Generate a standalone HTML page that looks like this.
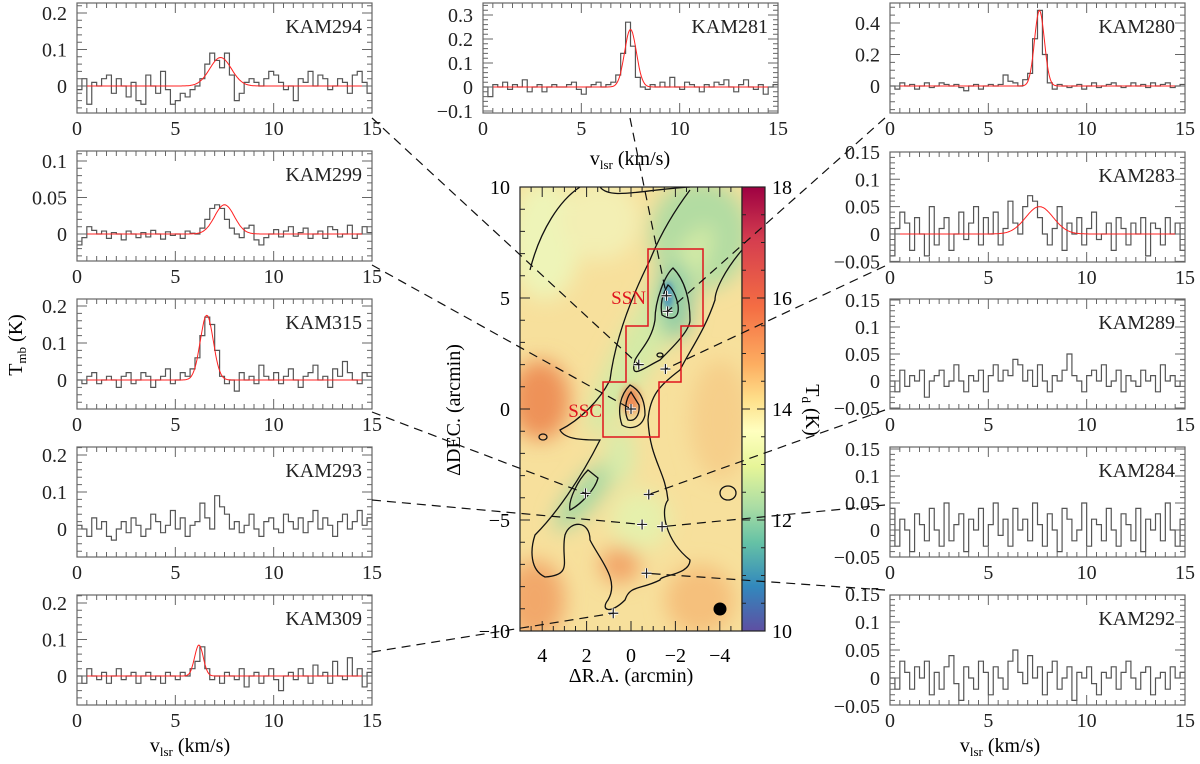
<!DOCTYPE html>
<html><head><meta charset="utf-8"><style>
html,body{margin:0;padding:0;background:#fff;}
svg{display:block;font-family:"Liberation Serif",serif;}
</style></head><body>
<svg id="fig" width="1200" height="764" viewBox="0 0 1200 764" xmlns="http://www.w3.org/2000/svg">
<defs>
<filter id="blur" x="-50%" y="-50%" width="200%" height="200%"><feGaussianBlur stdDeviation="10"/></filter>
<clipPath id="mapclip"><rect x="520" y="187" width="222" height="444"/></clipPath>
<linearGradient id="cbar" x1="0" y1="0" x2="0" y2="1">
<stop offset="0" stop-color="#9e0142"/><stop offset="0.12" stop-color="#d53e4f"/><stop offset="0.27" stop-color="#f46d43"/><stop offset="0.4" stop-color="#fdae61"/><stop offset="0.48" stop-color="#fee08b"/><stop offset="0.55" stop-color="#ffffbf"/><stop offset="0.63" stop-color="#e6f598"/><stop offset="0.72" stop-color="#abdda4"/><stop offset="0.8" stop-color="#66c2a5"/><stop offset="0.9" stop-color="#3288bd"/><stop offset="1" stop-color="#5e4fa2"/>
</linearGradient>
</defs>
<g id="map">
<g clip-path="url(#mapclip)">
<rect x="520" y="187" width="222" height="444" fill="#f7e09c"/>
<g filter="url(#blur)">
<ellipse cx="545" cy="240" rx="35" ry="60" fill="#eef4b8"/>
<ellipse cx="600" cy="220" rx="40" ry="40" fill="#f3efb4"/>
<ellipse cx="540" cy="400" rx="30" ry="40" fill="#ee9258"/>
<ellipse cx="535" cy="600" rx="30" ry="40" fill="#f2a86a"/>
<ellipse cx="700" cy="600" rx="35" ry="35" fill="#f5c07c"/>
<ellipse cx="620" cy="565" rx="20" ry="18" fill="#f2a468"/>
<ellipse cx="720" cy="420" rx="30" ry="60" fill="#f6cf8a"/>
<ellipse cx="700" cy="235" rx="50" ry="55" fill="#b2dca2"/>
<ellipse cx="650" cy="330" rx="22" ry="120" transform="rotate(30 650 330)" fill="#d4eaa6"/>
<ellipse cx="675" cy="300" rx="18" ry="40" fill="#8fcca4"/>
<ellipse cx="585" cy="495" rx="14" ry="45" transform="rotate(40 585 495)" fill="#a8d8a2"/>
<ellipse cx="640" cy="520" rx="30" ry="30" fill="#e6f0ac"/>
<ellipse cx="620" cy="455" rx="15" ry="30" fill="#d8ecaa"/>
</g>
<ellipse cx="668" cy="295" rx="5" ry="14" fill="#4f96b8" style="filter:blur(3px)"/>
<ellipse cx="631" cy="400" rx="9" ry="14" fill="#ec8a55" style="filter:blur(4px)"/>
<g fill="none" stroke="#111" stroke-width="1.3">
<path d="M530,270 C540,230 560,200 580,187 M600,187 C610,200 640,190 690,187 M742,250 C725,270 715,290 715,300 C705,330 690,350 680,370 C660,385 650,395 648,420 C650,460 665,470 668,500 C660,510 665,540 690,560 C690,575 660,575 660,580 C640,590 630,585 625,600 C610,615 600,610 608,600 C620,580 600,560 590,540 C590,520 570,520 565,535 C560,560 575,575 545,577 C530,570 530,550 535,535 C555,515 580,480 600,440 C585,440 565,440 560,430 C580,420 600,400 610,380 C615,340 630,300 650,260 C660,235 675,210 690,190"/>
<path d="M673,268 C665,275 655,300 655,320 C652,340 640,350 635,360 C630,380 640,370 660,360 C675,345 690,330 690,320 C690,300 685,280 673,268 Z"/>
<path d="M668,285 C662,295 660,305 662,315 C670,320 680,320 678,305 C676,295 672,288 668,285 Z"/>
<path d="M630,385 C620,395 617,410 622,425 C630,430 642,428 645,415 C645,400 640,390 630,385 Z"/>
<path d="M631,392 C625,400 624,412 628,420 C635,422 640,415 639,405 Z"/>
<path d="M588,470 C578,480 568,500 570,510 C580,505 595,490 598,478 Z"/>
<ellipse cx="543" cy="437" rx="4" ry="3"/>
<ellipse cx="728" cy="493" rx="8" ry="7"/>
<ellipse cx="660" cy="355" rx="3" ry="2"/>
</g>
</g>
<rect x="520" y="187" width="222" height="444" fill="none" stroke="#222" stroke-width="1.2"/>
<g fill="none" stroke="#e0141e" stroke-width="1.5">
<path d="M648,249 H703 V326 H681 V382 H659 V437 H603 V382 H626 V326 H648 Z"/>
</g>
<text x="646" y="304" font-size="19" fill="#e0141e" text-anchor="end">SSN</text>
<text x="602" y="417" font-size="19" fill="#e0141e" text-anchor="end">SSC</text>
<circle cx="720" cy="609" r="6.5" fill="#000"/>
<rect x="742" y="187" width="23" height="444" fill="url(#cbar)" stroke="#222" stroke-width="1.2"/>
<text transform="translate(460,410) rotate(-90)" font-size="20" text-anchor="middle">ΔDEC. (arcmin)</text>
<text x="631" y="682" font-size="20" text-anchor="middle">ΔR.A. (arcmin)</text>
<text transform="translate(806,410) rotate(90)" font-size="20" text-anchor="middle">T<tspan font-size="13" dy="4">d</tspan><tspan dy="-4"> (K)</tspan></text>
</g>
<text transform="translate(22,345) rotate(-90)" font-size="20" text-anchor="middle">T<tspan font-size="13" dy="4">mb</tspan><tspan dy="-4"> (K)</tspan></text>
<g id="panels"></g>
<g id="overlay"></g>
</svg>
<script>
const NS="http://www.w3.org/2000/svg";
const names=["KAM294","KAM299","KAM315","KAM293","KAM309","KAM281","KAM280","KAM283","KAM289","KAM284","KAM292"];
const specKAM294=[-0.01,0.02,-0.05,0.01,0.0,0.02,0.03,-0.02,0.02,0.0,-0.03,0.01,-0.04,-0.05,0.03,0.0,-0.02,0.04,-0.01,-0.05,-0.04,-0.02,-0.03,-0.01,0.0,0.02,0.06,0.09,0.07,0.05,0.09,0.03,-0.04,-0.02,0.01,0.02,0.01,0.0,0.02,0.04,0.03,0.01,-0.01,0.0,-0.04,0.02,0.01,0.04,0.0,0.03,0.02,-0.01,0.0,0.02,0.01,-0.02,0.03,0.04,0.01,-0.02];
const specKAM299=[-0.015,-0.005,0.01,0.005,0.0,0.004,-0.006,0.002,0.0,-0.008,0.004,0.0,-0.005,0.002,-0.004,0.005,0.0,-0.007,0.003,-0.002,0.0,-0.006,0.004,0.001,0.0,0.008,0.02,0.035,0.04,0.035,0.02,0.008,0.0,-0.005,0.008,0.012,-0.008,-0.015,-0.005,0.0,0.006,-0.004,0.004,0.01,-0.003,0.002,0.008,-0.006,0.0,0.004,-0.006,0.01,0.006,-0.004,0.0,0.012,-0.006,0.0,0.01,0.002];
const specKAM315=[0.0,-0.01,0.01,0.02,-0.01,0.0,0.01,0.0,-0.02,0.01,0.02,-0.01,0.0,0.02,0.01,-0.02,0.0,0.01,0.03,-0.01,0.0,0.02,0.01,0.03,0.06,0.12,0.17,0.15,0.08,0.01,-0.01,0.0,-0.03,0.02,0.0,0.01,-0.01,0.04,0.01,0.0,0.02,-0.01,0.01,0.03,0.0,-0.02,0.01,0.02,0.04,0.0,0.01,-0.02,0.03,0.01,0.05,0.02,0.0,-0.01,0.02,0.01];
const specKAM293=[0.01,0.0,-0.02,0.03,0.0,0.02,-0.02,-0.03,0.0,0.02,-0.01,0.03,0.01,-0.02,0.0,0.04,0.02,-0.01,0.01,0.05,0.0,0.03,-0.02,0.01,0.02,0.07,0.03,0.0,0.09,0.06,0.04,0.0,0.02,-0.01,0.01,0.04,0.0,-0.02,0.02,0.03,0.0,-0.01,0.04,0.02,0.0,0.03,-0.01,0.02,0.05,0.0,0.03,0.01,-0.02,0.02,0.04,0.0,0.02,0.05,0.01,0.03];
const specKAM309=[0.0,-0.02,0.02,0.0,-0.01,0.01,-0.02,0.0,0.02,-0.01,0.0,0.01,-0.02,0.0,0.01,-0.01,0.0,-0.02,0.01,0.0,-0.01,0.01,0.0,0.02,0.04,0.08,0.02,-0.01,0.0,-0.02,0.01,0.0,-0.01,0.02,-0.03,0.0,0.01,-0.02,0.0,0.02,-0.01,-0.04,0.0,0.01,-0.01,0.02,0.0,-0.02,0.03,0.0,0.01,-0.02,0.04,0.0,-0.01,0.05,0.0,0.02,-0.03,0.01];
const specKAM281=[0.0,-0.04,0.01,0.0,0.02,-0.01,0.01,0.0,0.03,-0.02,0.0,0.01,-0.02,0.0,0.01,0.0,0.0,0.01,0.02,-0.01,-0.03,0.0,0.01,0.02,0.0,0.01,0.02,0.05,0.14,0.27,0.17,0.04,0.0,-0.01,0.01,0.0,0.02,0.0,0.04,0.0,-0.01,0.02,0.01,0.0,-0.02,0.01,0.0,0.02,0.01,0.03,0.0,-0.02,0.01,0.03,0.0,-0.01,0.01,-0.03,0.0,0.01];
const specKAM280=[0.0,-0.02,0.02,0.0,0.01,-0.02,0.0,0.02,-0.01,0.0,0.02,0.01,0.0,0.01,-0.01,-0.03,0.0,0.01,-0.02,0.0,0.01,0.0,0.01,0.07,0.03,0.02,0.0,0.04,0.08,0.3,0.48,0.2,0.02,-0.02,0.01,0.0,-0.01,0.0,0.01,-0.02,0.0,0.02,-0.01,0.0,0.01,0.02,0.0,-0.01,0.0,0.02,0.0,0.01,-0.01,0.02,0.0,0.01,0.02,-0.01,0.0,0.01];
const specKAM283=[-0.04,0.01,0.04,0.02,-0.03,0.03,0.0,-0.04,0.05,-0.02,0.01,0.03,-0.03,0.0,0.04,-0.01,0.02,0.05,-0.02,0.03,0.0,0.04,-0.02,0.01,0.06,0.02,0.0,0.05,0.07,0.06,0.03,0.0,-0.02,0.01,0.05,-0.03,0.02,0.0,0.03,-0.02,0.01,0.04,-0.01,0.0,0.02,-0.03,0.03,0.01,-0.02,0.02,0.0,0.03,-0.04,0.02,0.01,-0.02,0.03,0.0,0.02,-0.03];
const specKAM289=[0.0,-0.02,0.02,-0.01,0.01,0.0,0.02,-0.03,0.0,0.01,0.02,-0.01,0.0,0.03,0.0,-0.02,0.01,0.0,0.02,-0.02,0.01,0.03,0.0,0.02,0.01,0.04,0.03,0.0,0.02,-0.01,0.03,0.0,-0.02,0.01,0.0,0.02,0.05,0.01,0.0,-0.02,0.01,0.02,0.0,0.03,-0.01,0.0,0.02,-0.02,0.01,0.0,-0.01,0.02,0.0,0.01,-0.02,0.03,0.0,0.01,-0.01,0.0];
const specKAM284=[0.04,-0.03,0.02,0.0,-0.04,0.03,0.01,-0.02,0.04,0.0,-0.03,0.05,-0.02,0.01,0.03,-0.04,0.02,0.0,0.04,-0.03,0.01,0.05,-0.01,0.02,-0.03,0.04,0.0,0.02,-0.02,0.05,0.01,-0.03,0.03,0.0,-0.04,0.04,0.02,-0.02,0.0,0.05,-0.03,0.02,0.01,-0.02,0.04,0.0,-0.03,0.03,0.01,-0.02,0.04,-0.04,0.02,0.0,0.03,-0.02,0.05,0.0,-0.03,0.02];
const specKAM292=[0.0,-0.02,0.03,0.01,-0.02,0.02,0.0,0.03,-0.03,0.01,-0.02,0.02,0.04,-0.01,-0.04,0.02,0.0,-0.02,0.03,0.01,-0.03,0.02,0.0,-0.02,0.03,0.05,0.01,-0.01,0.04,0.0,0.02,-0.03,0.01,0.03,-0.02,0.0,0.02,-0.04,0.01,0.0,0.02,-0.01,-0.03,0.01,0.0,0.02,-0.02,0.01,0.03,0.0,-0.02,0.01,0.02,-0.03,0.0,0.01,-0.02,0.02,0.0,0.01];
const spectra=[specKAM294,specKAM299,specKAM315,specKAM293,specKAM309,specKAM281,specKAM280,specKAM283,specKAM289,specKAM284,specKAM292];
// gaussian fits: amplitude, center (km/s), sigma (km/s); null = no fit
const fitAmp=[0.078,0.04,0.175,null,0.085,0.24,0.48,0.05,null,null,null];
const fitCen=[7.3,7.5,6.6,null,6.2,7.5,7.6,7.6,null,null,null];
const fitSig=[0.55,0.5,0.33,null,0.22,0.3,0.25,0.7,null,null,null];
const xTickLabels=[0,5,10,15];
const yTicksA=[0,0.1,0.2];
const yTicksB=[0,0.05,0.1];
const yTicksM=[-0.1,0,0.1,0.2,0.3];
const yTicksR1=[0,0.2,0.4];
const yTicksR=[-0.05,0,0.05,0.1,0.15];
const yTickSets=[yTicksA,yTicksB,yTicksA,yTicksA,yTicksA,yTicksM,yTicksR1,yTicksR,yTicksR,yTicksR,yTicksR];
const yMinorStep=[0.02,0.01,0.02,0.02,0.02,0.02,0.05,0.01,0.01,0.01,0.01];
const chanWidth=0.25;
// layout (pixels)
const layout=[
 {x:77,y:3,y0:86,ppu:365},{x:77,y:151,y0:234,ppu:730},{x:77,y:299,y0:380,ppu:370},{x:77,y:447,y0:529,ppu:370},{x:77,y:595,y0:676,ppu:365},
 {x:483,y:3,y0:87,ppu:240},
 {x:890,y:3,y0:86,ppu:157.5},{x:890,y:152,y0:234,ppu:547},{x:890,y:299,y0:381,ppu:540},{x:890,y:447,y0:530,ppu:540},{x:890,y:595,y0:678,ppu:560}];
const PW=295,PH=110;
function mk(tag,attrs,parent){const e=document.createElementNS(NS,tag);for(const k in attrs)e.setAttribute(k,attrs[k]);parent.appendChild(e);return e;}
const panels=document.getElementById('panels');
function fmt(v){return (v<0?'\u2212':'')+String(Math.abs(v));}
spectra.forEach((spec,i)=>{
  const L=layout[i];
  const g=mk('g',{},panels);
  
  
  const xs=v=>L.x+v/15*PW;
  const ys=t=>L.y0-t*L.ppu;
  const clipId='c'+i;
  const cp=mk('clipPath',{id:clipId},g);mk('rect',{x:L.x,y:L.y,width:PW,height:PH},cp);
  let d='';
  spec.forEach((t,k)=>{const x0=xs(k*chanWidth),x1=xs((k+1)*chanWidth),y=ys(t);d+=(k===0?'M'+x0+','+y:'V'+y)+'H'+x1;});
  const fitG=mk('g',{'clip-path':'url(#'+clipId+')'},g);
  const sp=mk('path',{d:d,fill:'none',stroke:'#555','stroke-width':1.2},fitG);
  
  
  if(fitAmp[i]!==null){
    let fd='';
    for(let v=0;v<=15.001;v+=0.05){const t=fitAmp[i]*Math.exp(-0.5*Math.pow((v-fitCen[i])/fitSig[i],2));fd+=(v===0?'M':'L')+xs(v).toFixed(1)+','+ys(t).toFixed(1);}
    const fp=mk('path',{d:fd,fill:'none',stroke:'#ff2020','stroke-width':1},fitG);
    
    
  }
  mk('rect',{x:L.x,y:L.y,width:PW,height:PH,fill:'none',stroke:'#666','stroke-width':1.2},g);
  let td='';
  for(let v=0.5;v<15;v+=0.5){const big=Math.abs(v%5)<1e-6;const len=big?10:5;const x=xs(v);td+=`M${x},${L.y+PH}v${-len}M${x},${L.y}v${len}`;}
  const ymin=(L.y0-(L.y+PH))/L.ppu,ymax=(L.y0-L.y)/L.ppu;
  const st=yMinorStep[i];
  for(let t=Math.ceil(ymin/st)*st;t<=ymax;t+=st){const y=ys(t);const major=yTickSets[i].some(m=>Math.abs(m-t)<st/10);const len=major?10:5;td+=`M${L.x},${y}h${len}M${L.x+PW},${y}h${-len}`;}
  mk('path',{d:td,stroke:'#666','stroke-width':1,fill:'none'},g);
  xTickLabels.forEach(v=>{const t=mk('text',{x:xs(v),y:L.y+PH+22,'font-size':20,'text-anchor':'middle',fill:'#222'},g);t.textContent=v;
    });
  yTickSets[i].forEach(v=>{const t=mk('text',{x:L.x-10,y:ys(v)+7,'font-size':20,'text-anchor':'end',fill:'#222'},g);t.textContent=fmt(v);
    });
  const nm=mk('text',{x:L.x+PW-10,y:L.y+30,'font-size':20,'text-anchor':'end',fill:'#222'},g);nm.textContent=names[i];
  
});
[[190,752],[630,165],[1000,752]].forEach(p=>{
  const t=mk('text',{x:p[0],y:p[1],'font-size':20,'text-anchor':'middle'},panels);
  
  
  t.innerHTML='v<tspan font-size="13" dy="4">lsr</tspan><tspan dy="-4"> (km/s)</tspan>';
});
const raTicks=[4,2,0,-2,-4];
const decTicks=[10,5,0,-5,-10];
const cbTicks=[18,16,14,12,10];
const srcRA=[-1.6,-1.65,-0.35,-1.55,0,2.05,-0.8,-0.5,-1.4,-0.7,0.8];
const srcDEC=[5.1,4.4,2.0,1.8,0,-3.8,-3.85,-5.2,-5.3,-7.4,-9.2];
const mapX=ra=>631-ra*22.2;
const mapY=de=>409-de*22.2;
const cbY=T=>631-(T-10)/8*444;
const map=document.getElementById('map');
let md='';
for(let ra=-5;ra<=5.001;ra+=0.5){const big=Math.abs(ra%2)<1e-6;const len=big?10:5;const x=mapX(ra);md+=`M${x},631v${-len}M${x},187v${len}`;}
for(let de=-10;de<=10;de+=1){const len=de%5===0?10:5;const y=mapY(de);md+=`M520,${y}h${len}`;}
for(let T=10;T<=18;T+=0.5){const len=T%2===0?8:4;const y=cbY(T);md+=`M742,${y}h${len}M765,${y}h${-len}`;}
mk('path',{d:md,stroke:'#222','stroke-width':1,fill:'none'},map);
raTicks.forEach(v=>{const t=mk('text',{x:mapX(v),y:662,'font-size':20,'text-anchor':'middle'},map);t.textContent=fmt(v);
  });
decTicks.forEach(v=>{const t=mk('text',{x:510,y:mapY(v)+7,'font-size':20,'text-anchor':'end'},map);t.textContent=fmt(v);
  });
cbTicks.forEach(v=>{const t=mk('text',{x:772,y:cbY(v)+7,'font-size':20,'text-anchor':'start'},map);t.textContent=v;
  });
srcRA.forEach((ra,k)=>{
  const x=mapX(ra),y=mapY(srcDEC[k]);
  const c=mk('path',{d:`M${x-5},${y}h10M${x},${y-5}v10`,stroke:'#fff','stroke-width':3},map);
  mk('path',{d:`M${x-5},${y}h10M${x},${y-5}v10`,stroke:'#222','stroke-width':1.2},map);
  
  
});
const linkStart=[[372,118],[372,265],[372,412],[372,500],[372,652],[630,118],[885,118],[885,266],[885,410],[885,505],[885,590]];
const linkSrc=[2,4,5,7,10,0,1,3,6,8,9];
const ov=document.getElementById('overlay');
linkStart.forEach((p,k)=>{
  const s=linkSrc[k];
  const l=mk('line',{x1:p[0],y1:p[1],x2:mapX(srcRA[s]),y2:mapY(srcDEC[s]),stroke:'#111','stroke-width':1.2,'stroke-dasharray':'9,6'},ov);
  
  
});
</script>
</body></html>
